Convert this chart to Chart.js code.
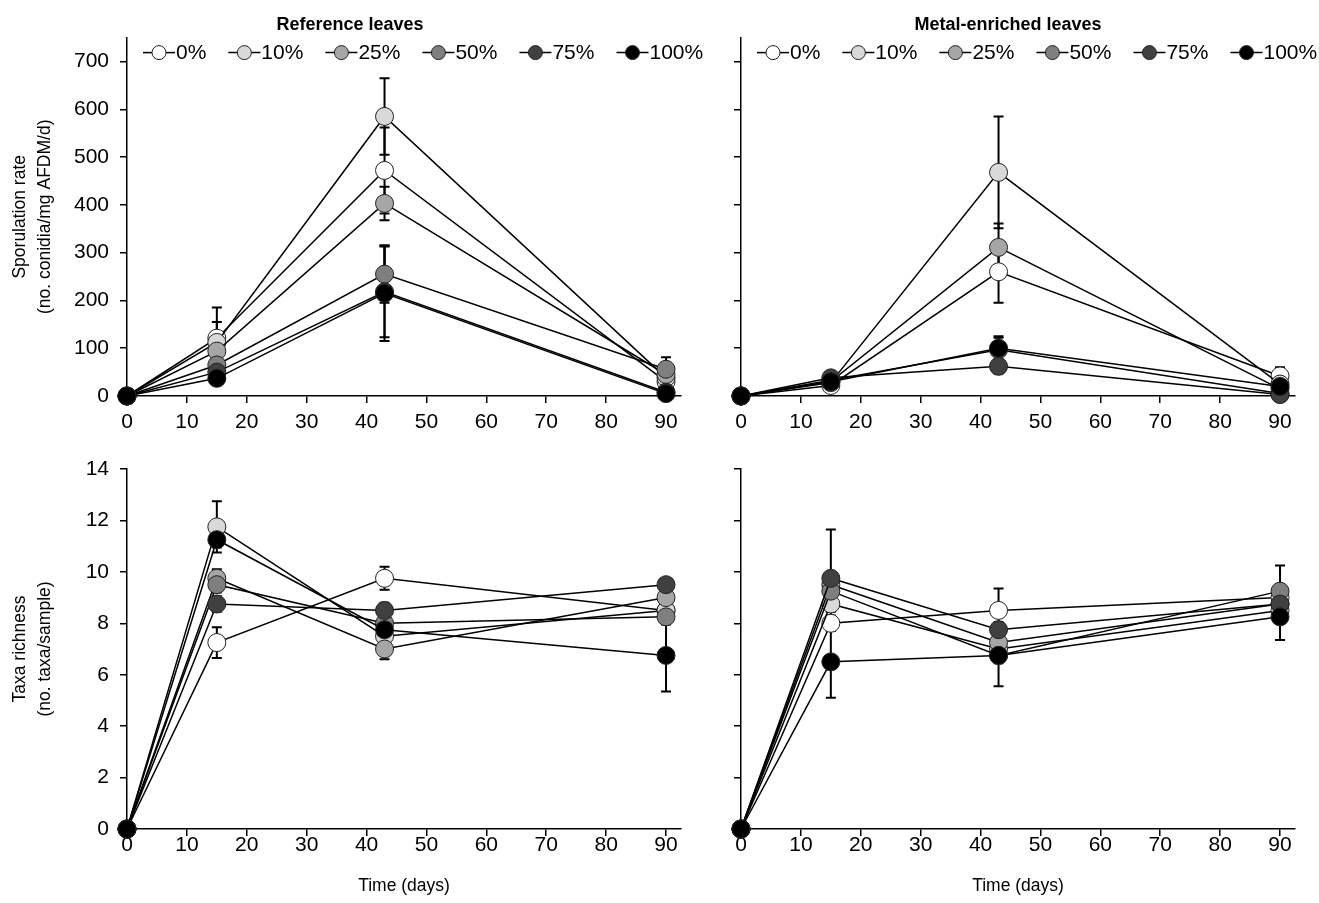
<!DOCTYPE html>
<html>
<head>
<meta charset="utf-8">
<script src="https://cdn.jsdelivr.net/npm/chart.js@4.4.1/dist/chart.umd.min.js"></script>
<style>
  body { margin: 0; background: #fff; width: 1319px; height: 903px; position: relative; overflow: hidden; }
  canvas { position: absolute; }
</style>
</head>
<body>
<canvas id="sporRef" width="719" height="450" style="left:0;top:0"></canvas>
<canvas id="sporMetal" width="619" height="450" style="left:700px;top:0"></canvas>
<canvas id="taxaRef" width="700" height="453" style="left:0;top:450px"></canvas>
<canvas id="taxaMetal" width="619" height="453" style="left:700px;top:450px"></canvas>
<script>
// sampling days and treatment levels
const days = [0, 15, 43, 90];
const levels = ['0%', '10%', '25%', '50%', '75%', '100%'];
const xTicks = [0, 10, 20, 30, 40, 50, 60, 70, 80, 90];
const sporTicks = [0, 100, 200, 300, 400, 500, 600, 700];
const taxaTicks = [0, 2, 4, 6, 8, 10, 12, 14];

// sporulation rate, reference leaves (rows = levels, cols = days)
const sporRefMean = [
  [0, 121, 472, 30],
  [0, 112, 585, 38],
  [0, 94, 403, 45],
  [0, 65, 255, 56],
  [0, 50, 218, 8],
  [0, 37, 215, 5]
];
const sporRefErr = [
  [0, 64, 90, 10],
  [0, 43, 80, 10],
  [0, 15, 35, 8],
  [0, 12, 60, 25],
  [0, 10, 95, 5],
  [0, 10, 100, 5]
];

// sporulation rate, metal-enriched leaves
const sporMetalMean = [
  [0, 22, 260, 42],
  [0, 28, 468, 25],
  [0, 30, 311, 15],
  [0, 33, 97, 5],
  [0, 38, 62, 3],
  [0, 30, 100, 20]
];
const sporMetalErr = [
  [0, 5, 65, 18],
  [0, 5, 117, 8],
  [0, 5, 50, 5],
  [0, 5, 25, 3],
  [0, 5, 15, 3],
  [0, 5, 25, 5]
];

// taxa richness, reference leaves
const taxaRefMean = [
  [0, 7.25, 9.75, 8.5],
  [0, 11.75, 7.5, 8.5],
  [0, 9.75, 7.0, 9.0],
  [0, 9.5, 8.0, 8.25],
  [0, 8.75, 8.5, 9.5],
  [0, 11.25, 7.75, 6.75]
];
const taxaRefErr = [
  [0, 0.6, 0.45, 0.3],
  [0, 1.0, 0.2, 0.3],
  [0, 0.35, 0.4, 0.3],
  [0, 0.3, 0.3, 0.3],
  [0, 0.3, 0.3, 0.2],
  [0, 0.3, 0.3, 1.4]
];

// taxa richness, metal-enriched leaves
const taxaMetalMean = [
  [0, 8.0, 8.5, 9.0],
  [0, 8.75, 7.0, 8.5],
  [0, 9.5, 7.25, 8.75],
  [0, 9.25, 6.75, 9.25],
  [0, 9.75, 7.75, 8.75],
  [0, 6.5, 6.75, 8.25]
];
const taxaMetalErr = [
  [0, 0.3, 0.85, 0.3],
  [0, 0.3, 0.3, 0.3],
  [0, 0.3, 0.3, 0.3],
  [0, 0.3, 0.3, 1.0],
  [0, 1.9, 0.3, 0.3],
  [0, 1.4, 1.2, 0.9]
];

const fills = ['#ffffff', '#d9d9d9', '#a6a6a6', '#7f7f7f', '#404040', '#000000'];

Chart.defaults.font.family = "'Liberation Sans', Arial, sans-serif";
Chart.defaults.color = '#000';

// vertical error bars with caps, drawn under the markers
const errorBars = {
  id: 'errorBars',
  beforeDatasetsDraw(chart, args, opts) {
    const {ctx, scales: {x, y}} = chart;
    ctx.save();
    ctx.strokeStyle = '#000';
    ctx.lineWidth = 2;
    chart.data.datasets.forEach((ds, i) => {
      ds.data.forEach((p, j) => {
        const e = opts.errors[i][j];
        if (!e) return;
        const px = x.getPixelForValue(p.x);
        const hi = y.getPixelForValue(p.y + e);
        const lo = y.getPixelForValue(Math.max(0, p.y - e));
        ctx.beginPath();
        ctx.moveTo(px, hi); ctx.lineTo(px, lo);
        ctx.moveTo(px - 5, hi); ctx.lineTo(px + 5, hi);
        ctx.moveTo(px - 5, lo); ctx.lineTo(px + 5, lo);
        ctx.stroke();
      });
    });
    ctx.restore();
  }
};

// legend row sitting inside the plot area, line-marker-line symbols
const insideLegend = {
  id: 'insideLegend',
  afterDraw(chart, args, opts) {
    if (!opts.show) return;
    const ctx = chart.ctx;
    const y = chart.chartArea.top + 15;
    let x = chart.chartArea.left + 16;
    ctx.save();
    ctx.font = "21px 'Liberation Sans', Arial, sans-serif";
    ctx.textBaseline = 'middle';
    chart.data.datasets.forEach(ds => {
      ctx.strokeStyle = '#000';
      ctx.lineWidth = 1.5;
      ctx.beginPath();
      ctx.moveTo(x, y); ctx.lineTo(x + 32, y);
      ctx.stroke();
      ctx.beginPath();
      ctx.arc(x + 16, y, 7, 0, Math.PI * 2);
      ctx.fillStyle = ds.pointBackgroundColor;
      ctx.fill();
      ctx.lineWidth = 1;
      ctx.strokeStyle = '#222';
      ctx.stroke();
      ctx.fillStyle = '#000';
      ctx.fillText(ds.label, x + 33, y + 1);
      x += 33 + ctx.measureText(ds.label).width + 22;
    });
    ctx.restore();
  }
};

function makePanel(id, p) {
  return new Chart(document.getElementById(id), {
    type: 'line',
    data: {
      datasets: levels.map((lvl, i) => ({
        label: lvl,
        data: days.map((d, j) => ({x: d, y: p.means[i][j]})),
        order: levels.length - i,
        borderColor: '#000',
        borderWidth: 1.5,
        pointRadius: 9,
        pointHoverRadius: 9,
        pointBackgroundColor: fills[i],
        pointBorderColor: '#222',
        pointBorderWidth: 1,
        tension: 0,
        clip: false
      }))
    },
    options: {
      responsive: false,
      animation: false,
      events: [],
      layout: { padding: { top: p.padTop, right: p.padRight, left: p.padLeft, bottom: 0 } },
      plugins: {
        legend: { display: false },
        tooltip: { enabled: false },
        title: {
          display: !!p.title,
          text: p.title,
          font: { size: 18, weight: 'bold' },
          color: '#000',
          padding: { top: 14, bottom: 2 }
        },
        errorBars: { errors: p.errs },
        insideLegend: { show: p.legend }
      },
      scales: {
        x: {
          type: 'linear',
          min: 0,
          max: 92.5,
          afterBuildTicks: s => { s.ticks = xTicks.map(v => ({value: v})); },
          afterFit: s => { s.height = p.xHeight; },
          grid: { drawOnChartArea: false, drawTicks: true, tickLength: 7, color: '#000', lineWidth: 1.5 },
          border: { color: '#000', width: 1.5 },
          ticks: { font: { size: 21 }, color: '#000', padding: p.xPad, maxRotation: 0, autoSkip: false },
          title: {
            display: !!p.xTitle,
            text: p.xTitle,
            font: { size: 17.5 },
            color: '#000',
            padding: { top: 0, bottom: 6 }
          }
        },
        y: {
          type: 'linear',
          min: 0,
          max: p.yMax,
          afterBuildTicks: s => { s.ticks = p.yTicks.map(v => ({value: v})); },
          afterFit: s => { s.width = p.yWidth; s.paddingTop = 0; s.paddingBottom = 0; },
          grid: { drawOnChartArea: false, drawTicks: true, tickLength: 7, color: '#000', lineWidth: 1.5 },
          border: { color: '#000', width: 1.5 },
          ticks: {
            font: { size: 21 },
            color: '#000',
            padding: 11,
            autoSkip: false,
            callback: v => p.yLabels ? v : ''
          },
          title: {
            display: !!p.yTitle,
            text: p.yTitle,
            font: { size: 17.5, lineHeight: 1.45 },
            color: '#000',
            padding: { top: p.yTitlePad, bottom: 0 }
          }
        }
      }
    },
    plugins: [errorBars, insideLegend]
  });
}

makePanel('sporRef', {
  means: sporRefMean, errs: sporRefErr, yMax: 750, yTicks: sporTicks,
  title: 'Reference leaves', yTitle: ['Sporulation rate', '(no. conidia/mg AFDM/d)'], xTitle: '',
  padLeft: 19, yWidth: 108, yTitlePad: -11.5, xHeight: 54, xPad: 7, padTop: 0, padRight: 38,
  yLabels: true, legend: true
});
makePanel('sporMetal', {
  means: sporMetalMean, errs: sporMetalErr, yMax: 750, yTicks: sporTicks,
  title: 'Metal-enriched leaves', yTitle: null, xTitle: '',
  padLeft: 21, yWidth: 20, yTitlePad: 0, xHeight: 54, xPad: 7, padTop: 0, padRight: 24,
  yLabels: false, legend: true
});
makePanel('taxaRef', {
  means: taxaRefMean, errs: taxaRefErr, yMax: 14, yTicks: taxaTicks,
  title: '', yTitle: ['Taxa richness', '(no. taxa/sample)'], xTitle: 'Time (days)',
  padLeft: 0, yWidth: 127, yTitlePad: 7.5, xHeight: 74, xPad: -3, padTop: 19, padRight: 19,
  yLabels: true, legend: false
});
makePanel('taxaMetal', {
  means: taxaMetalMean, errs: taxaMetalErr, yMax: 14, yTicks: taxaTicks,
  title: '', yTitle: null, xTitle: 'Time (days)',
  padLeft: 0, yWidth: 41, yTitlePad: 0, xHeight: 74, xPad: -3, padTop: 19, padRight: 24,
  yLabels: false, legend: false
});
</script>
</body>
</html>
